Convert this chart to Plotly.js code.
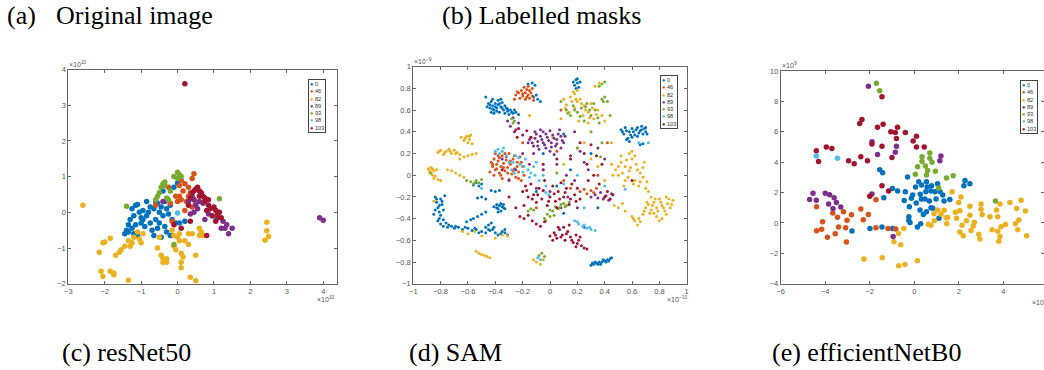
<!DOCTYPE html>
<html><head><meta charset="utf-8">
<script src="https://cdn.plot.ly/plotly-3.0.1.min.js"></script>
<style>html,body{margin:0;padding:0;background:#fff}#chart{width:1044px;height:370px}</style>
</head><body><div id="chart"></div>
<script>
// ---------- data ----------
const classLabels = ["0", "46", "82", "89", "93", "98", "103"];
const classColors = ["#0072BD", "#D95319", "#EDB120", "#7E2F8E", "#77AC30", "#4DBEEE", "#A2142F"];

// (c) resNet50 embedding (x1e10)
const res_0 = [[-1.45,-0.6],[-1.4,-0.5],[-1.35,-0.35],[-1.3,-0.2],[-1.35,-0.55],[-1.25,-0.45],[-1.2,-0.1],[-1.15,0.2],[-1.1,0.22],[-1.05,0.0],[-1.0,-0.15],[-1.0,-0.3],[-0.95,0.05],[-0.9,-0.4],[-0.85,0.3],[-0.85,-0.1],[-0.8,0.0],[-0.75,-0.3],[-0.7,-0.5],[-0.65,0.1],[-0.6,-0.2],[-0.55,0.25],[-0.55,-0.45],[-0.5,0.0],[-0.5,-0.3],[-0.45,0.15],[-0.4,-0.1],[-0.4,0.6],[-0.35,0.3],[-0.35,-0.4],[-0.3,0.1],[-0.3,-0.55],[-0.25,-0.05],[-0.2,-0.65],[-0.2,0.2],[-0.15,-0.2],[-0.1,0.7],[-0.05,-0.3],[0.0,0.82],[0.05,-0.3],[0.2,-0.25],[-1.1,-0.65],[-1.2,-0.6],[-0.65,-0.65],[-0.45,-0.7],[-0.6,0.3],[-0.75,0.15],[-0.95,-0.2],[-1.15,-0.35],[-1.25,0.1]];
const res_46 = [[0.45,1.08],[0.4,0.95],[0.1,0.9],[0.2,0.8],[0.05,0.75],[0.3,0.7],[0.15,0.6],[0.35,0.55],[0.05,0.45],[-0.05,0.45],[0.1,0.35],[0.0,0.3],[-0.2,0.25],[-0.25,0.7],[0.25,0.3],[0.3,0.45],[0.2,0.05],[-0.6,0.2],[-0.15,-0.25],[0.45,0.35],[0.4,0.15],[0.5,0.25]];
const res_82 = [[-2.6,0.2],[-2.15,-1.12],[-2.05,-0.85],[-2.0,-0.83],[-1.85,-0.73],[-2.1,-1.65],[-2.05,-1.8],[-1.85,-1.65],[-1.75,-1.7],[-1.75,-1.75],[-1.7,-1.2],[-1.6,-1.12],[-1.55,-1.05],[-1.45,-0.95],[-1.35,-0.8],[-1.3,-0.95],[-1.25,-0.85],[-1.2,-0.7],[-1.1,-0.55],[-1.05,-0.75],[-1.0,-0.85],[-0.95,-0.6],[-1.35,-1.9],[-0.55,-1.0],[-0.5,-0.7],[-0.45,-1.2],[-0.4,-1.3],[-0.4,-1.4],[-0.3,-1.3],[-0.3,-1.4],[-0.15,-0.5],[-0.1,-0.65],[-0.1,-0.95],[-0.05,-1.05],[0.0,-0.7],[0.05,-0.6],[0.05,-0.8],[0.1,-1.15],[0.1,-1.4],[0.1,-1.55],[0.15,-1.25],[0.2,-0.8],[0.3,-0.6],[0.3,-0.9],[0.4,-0.6],[0.35,-1.82],[0.5,-1.92],[0.5,-1.2],[0.6,-0.45],[0.6,-0.65],[0.65,-0.55],[0.7,-0.65],[2.45,-0.28],[2.45,-0.52],[2.5,-0.68],[2.4,-0.78]];
const res_89 = [[-0.4,0.3],[0.3,0.3],[0.4,0.45],[0.45,0.35],[0.5,0.2],[0.55,0.1],[0.6,0.3],[0.7,0.25],[0.45,0.0],[0.75,-0.2],[1.2,-0.45],[1.3,-0.45],[1.35,-0.35],[1.4,-0.6],[1.5,-0.45],[1.25,-0.25],[3.9,-0.15],[4.0,-0.22],[0.35,-0.05],[0.85,-0.05]];
const res_93 = [[-1.4,0.17],[-0.6,0.35],[-0.55,0.45],[-0.5,0.55],[-0.45,0.7],[-0.4,0.8],[-0.35,0.75],[-0.3,0.4],[-0.2,0.6],[-0.25,0.35],[-0.1,1.0],[0.0,1.12],[0.05,1.05],[0.0,0.95],[0.1,1.0],[-0.1,-0.9],[1.15,0.38],[-0.35,0.85]];
const res_98 = [[0.0,-0.02],[1.0,-0.13]];
const res_103 = [[0.2,3.6],[0.5,0.65],[0.55,0.7],[0.45,0.6],[0.6,0.6],[0.65,0.55],[0.7,0.45],[0.75,0.4],[0.85,0.35],[0.85,0.2],[0.9,0.1],[1.0,0.15],[1.05,0.05],[1.1,-0.05],[1.15,0.0],[1.2,-0.15],[0.95,-0.1],[0.8,0.05],[1.05,-0.25],[0.75,0.3],[0.35,0.4],[0.3,0.2],[0.35,-0.25],[0.1,-0.45],[0.8,-0.65],[-0.1,-0.35],[0.4,0.55],[0.6,0.45],[1.1,-0.15]];

// (d) SAM embedding
const sam_0 = [[-0.45,0.66],[-0.44,0.62],[-0.43,0.68],[-0.42,0.64],[-0.41,0.6],[-0.4,0.66],[-0.39,0.62],[-0.38,0.69],[-0.37,0.58],[-0.36,0.63],[-0.35,0.67],[-0.34,0.6],[-0.33,0.57],[-0.32,0.62],[-0.31,0.59],[-0.3,0.56],[-0.29,0.6],[-0.27,0.57],[-0.25,0.58],[-0.23,0.56],[-0.41,0.57],[-0.38,0.65],[-0.43,0.58],[-0.36,0.7],[-0.47,0.72],
[-0.44,0.65],[-0.42,0.61],[-0.4,0.63],[-0.39,0.59],[-0.37,0.66],[-0.35,0.62],[-0.33,0.64],[-0.31,0.61],[-0.28,0.58],[-0.26,0.6],[-0.46,0.63],[-0.42,0.7],
[0.17,0.86],[0.18,0.83],[0.19,0.88],[0.2,0.85],[0.21,0.81],[0.19,0.8],[0.22,0.86],[0.2,0.89],[-0.16,0.84],[-0.13,0.85],[-0.11,0.83],[-0.12,0.72],[-0.09,0.7],[-0.07,0.68],[-0.1,0.74],
[0.52,0.42],[0.54,0.38],[0.55,0.44],[0.57,0.34],[0.58,0.4],[0.6,0.43],[0.62,0.37],[0.63,0.42],[0.64,0.44],[0.65,0.39],[0.66,0.41],[0.67,0.45],[0.68,0.38],[0.69,0.43],[0.7,0.4],[0.66,0.28],[0.68,0.29],[0.58,0.31],[0.56,0.33],
[0.53,0.4],[0.56,0.41],[0.59,0.37],[0.61,0.4],[0.64,0.36],[0.67,0.42],[0.7,0.44],[0.71,0.38],[0.6,0.35],
[0.3,-0.83],[0.32,-0.82],[0.34,-0.81],[0.36,-0.8],[0.38,-0.8],[0.4,-0.79],[0.42,-0.78],[0.44,-0.77],[0.35,-0.82],[0.39,-0.78],[0.41,-0.8],[0.31,-0.81],[0.33,-0.8],[0.37,-0.82],[0.43,-0.79],[0.45,-0.76],
[-0.84,-0.2],[-0.83,-0.25],[-0.82,-0.3],[-0.8,-0.22],[-0.79,-0.27],[-0.81,-0.34],[-0.78,-0.32],[-0.77,-0.19],[-0.85,-0.36],[-0.8,-0.37],[-0.83,-0.22],[-0.81,-0.28],[-0.84,-0.32],[-0.79,-0.24],
[-0.82,-0.42],[-0.8,-0.45],[-0.78,-0.47],[-0.75,-0.48],[-0.72,-0.47],[-0.7,-0.49],[-0.67,-0.48],[-0.64,-0.5],[-0.6,-0.49],[-0.57,-0.51],[-0.54,-0.5],[-0.5,-0.52],[-0.47,-0.53],[-0.44,-0.51],[-0.42,-0.5],[-0.4,-0.53],[-0.38,-0.55],[-0.35,-0.52],[-0.33,-0.5],[-0.31,-0.55],[-0.45,-0.46],[-0.43,-0.44],[-0.47,-0.48],[-0.78,-0.41],[-0.76,-0.44],
[-0.81,-0.4],[-0.74,-0.46],[-0.69,-0.47],[-0.62,-0.48],[-0.55,-0.49],[-0.52,-0.53],[-0.45,-0.5],[-0.41,-0.48],[-0.36,-0.54],[-0.33,-0.53],
[-0.41,-0.29],[-0.39,-0.27],[-0.38,-0.31],[-0.37,-0.28],[-0.36,-0.33],[-0.35,-0.29],[-0.34,-0.27],[-0.33,-0.31],[-0.38,-0.34],[-0.39,-0.3],[-0.36,-0.26],[-0.34,-0.3],
[-0.61,-0.43],[-0.58,-0.41],[-0.56,-0.4],[-0.53,-0.38],[-0.5,-0.36],[-0.47,-0.34],[-0.56,-0.09],[-0.54,-0.07],[-0.52,-0.1],[-0.5,-0.08],[-0.53,-0.21],[-0.5,-0.2],[-0.47,-0.22],[-0.43,-0.14],[-0.4,-0.15],[-0.37,-0.14],
[0.05,-0.1],[0.15,0.05],[-0.05,0.2],[0.1,0.38],[0.3,0.2],[0.35,-0.3],[-0.1,-0.15],[0.1,-0.35],[0.25,-0.48]];
const sam_46 = [[-0.25,0.74],[-0.23,0.76],[-0.21,0.78],[-0.2,0.73],[-0.18,0.76],[-0.17,0.79],[-0.16,0.74],[-0.15,0.71],[-0.14,0.76],[-0.13,0.73],[-0.19,0.81],[-0.22,0.71],[-0.12,0.69],[-0.26,0.7],[-0.16,0.82],
[-0.24,0.77],[-0.2,0.75],[-0.17,0.72],[-0.15,0.78],[-0.18,0.7],[-0.13,0.8],
[-0.43,0.12],[-0.42,0.08],[-0.41,0.15],[-0.4,0.05],[-0.39,0.1],[-0.38,0.13],[-0.37,0.02],[-0.36,0.08],[-0.35,0.18],[-0.34,0.11],[-0.33,0.04],[-0.32,0.14],[-0.31,0.07],[-0.3,0.2],[-0.29,0.1],[-0.28,0.01],[-0.27,0.15],[-0.26,0.06],[-0.25,-0.02],[-0.24,0.12],[-0.23,0.03],[-0.22,0.17],[-0.21,-0.05],[-0.2,0.08],[-0.19,0.0],[-0.41,0.0],[-0.35,-0.03],[-0.3,-0.04],[-0.38,0.18],[-0.33,0.2],
[-0.42,0.1],[-0.39,0.06],[-0.37,0.16],[-0.36,0.0],[-0.34,0.07],[-0.32,0.17],[-0.31,0.02],[-0.29,0.13],[-0.27,0.04],[-0.26,0.18],[-0.24,0.08],[-0.23,-0.03],[-0.21,0.12],[-0.4,0.2],[-0.44,0.03],
[0.22,-0.15],[0.25,-0.13],[0.27,-0.17],[0.3,-0.14],[0.32,-0.16],[0.34,-0.12],
[0.05,0.22],[0.15,-0.12],[0.2,0.25],[-0.05,0.05],[0.35,0.0],[-0.1,-0.3],[0.1,-0.05],[0.42,0.3],[0.08,0.6],[-0.2,0.3]];
const sam_82 = [[-0.82,0.21],[-0.8,0.23],[-0.78,0.19],[-0.76,0.22],[-0.74,0.24],[-0.72,0.2],[-0.7,0.23],[-0.68,0.21],[-0.66,0.19],
[-0.81,0.22],[-0.77,0.21],[-0.73,0.22],[-0.69,0.2],[-0.62,0.34],[-0.59,0.36],
[-0.65,0.35],[-0.63,0.32],[-0.61,0.36],[-0.6,0.3],[-0.59,0.33],[-0.58,0.37],[-0.57,0.29],[-0.66,0.15],[-0.63,0.17],[-0.6,0.18],[-0.57,0.19],[-0.54,0.2],
[-0.89,0.06],[-0.88,0.02],[-0.87,0.07],[-0.85,0.04],[-0.84,-0.01],[-0.83,0.05],[-0.82,-0.04],[-0.8,-0.05],[-0.86,0.0],[-0.88,0.04],[-0.86,0.06],[-0.85,-0.03],[-0.75,0.05],[-0.72,0.04],[-0.69,0.02],[-0.66,0.0],[-0.63,-0.02],
[0.1,0.7],[0.12,0.65],[0.15,0.72],[0.18,0.62],[0.2,0.68],[0.22,0.7],[0.24,0.55],[0.25,0.64],[0.28,0.58],[0.3,0.66],[0.32,0.52],[0.35,0.6],[0.38,0.55],[0.4,0.5],[0.2,0.78],[0.18,0.75],[0.14,0.58],[0.08,0.52],[0.33,0.82],[0.36,0.85],[0.28,0.48],
[0.11,0.62],[0.16,0.68],[0.19,0.7],[0.23,0.66],[0.26,0.6],[0.29,0.53],[0.31,0.62],[0.34,0.56],[0.21,0.5],[0.17,0.77],
[0.45,0.1],[0.48,0.05],[0.5,0.0],[0.52,0.12],[0.55,0.08],[0.57,-0.02],[0.58,0.04],[0.6,0.15],[0.62,-0.05],[0.63,0.1],[0.65,-0.1],[0.66,0.02],[0.68,0.07],[0.7,-0.12],[0.72,-0.15],[0.58,0.2],[0.6,0.22],[0.62,0.18],[0.4,-0.05],[0.35,0.08],[0.3,0.15],[0.68,-0.02],[0.54,-0.1],
[0.46,0.0],[0.5,0.08],[0.53,0.02],[0.56,0.14],[0.59,0.07],[0.61,-0.08],[0.64,0.05],[0.66,-0.06],[0.69,0.12],[0.71,-0.06],[0.55,-0.05],[0.52,0.18],
[0.6,-0.38],[0.62,-0.42],[0.65,-0.4],[0.68,-0.36],[0.7,-0.3],[0.72,-0.27],[0.74,-0.32],[0.76,-0.25],[0.78,-0.3],[0.8,-0.22],[0.82,-0.28],[0.84,-0.33],[0.86,-0.26],[0.88,-0.3],[0.9,-0.23],[0.78,-0.38],[0.74,-0.2],[0.85,-0.2],[0.64,-0.46],[0.82,-0.4],[0.76,-0.35],
[0.61,-0.4],[0.66,-0.43],[0.69,-0.33],[0.71,-0.25],[0.73,-0.35],[0.75,-0.28],[0.77,-0.22],[0.79,-0.33],[0.81,-0.25],[0.83,-0.3],[0.85,-0.36],[0.87,-0.22],[0.89,-0.27],[0.8,-0.42],
[0.47,-0.28],[0.5,-0.3],[0.53,-0.26],[0.55,-0.33],
[-0.54,-0.7],[-0.52,-0.72],[-0.5,-0.73],[-0.48,-0.74],[-0.46,-0.75],[-0.44,-0.76],[-0.64,-0.52],[-0.6,-0.54],[-0.55,-0.52],[-0.5,-0.56],[-0.4,-0.58],[-0.35,-0.55],[-0.31,-0.56],
[-0.12,-0.78],[-0.1,-0.8],[-0.07,-0.82],[-0.05,-0.78],[0.02,0.35],[0.25,0.3],[0.1,0.1],[-0.15,0.55],[0.45,0.3],[-0.85,-0.24]];
const sam_89 = [[-0.16,0.3],[-0.14,0.35],[-0.12,0.27],[-0.1,0.38],[-0.09,0.31],[-0.08,0.24],[-0.06,0.33],[-0.05,0.4],[-0.04,0.28],[-0.02,0.35],[0.0,0.22],[0.01,0.3],[0.02,0.37],[0.04,0.27],[0.05,0.33],[0.07,0.42],[0.08,0.25],[0.1,0.3],[0.11,0.36],[-0.12,0.2],[-0.07,0.42],[0.03,0.19],[-0.03,0.25],[0.06,0.38],
[-0.15,0.33],[-0.13,0.3],[-0.11,0.34],[-0.09,0.27],[-0.07,0.36],[-0.05,0.3],[-0.03,0.38],[-0.01,0.32],[0.01,0.26],[0.03,0.34],[0.05,0.29],[0.08,0.36],[0.09,0.32],[-0.11,0.4],[0.0,0.41],
[0.33,-0.18],[0.35,-0.21],[0.37,-0.16],[0.39,-0.22],[0.41,-0.19],[0.43,-0.23],[0.45,-0.17],
[-0.31,0.5],[-0.29,0.45],[-0.27,0.53],[-0.25,0.42],[-0.23,0.48],
[-0.25,0.05],[-0.15,0.1],[-0.05,0.05],[0.05,0.1],[0.15,0.18],[0.18,-0.05],[0.25,0.12],[0.3,-0.2],[0.2,-0.3],[0.0,-0.15],[-0.1,-0.12],[0.12,0.0],[-0.2,0.2],[0.22,0.22],[0.28,0.05],[-0.3,-0.05],[0.13,-0.2],[0.08,-0.3],[0.4,0.15],[0.35,0.25],[0.18,0.4],[-0.35,0.15]];
const sam_93 = [[0.12,0.6],[0.15,0.55],[0.17,0.64],[0.2,0.58],[0.23,0.62],[0.25,0.5],[0.27,0.66],[0.3,0.55],[0.33,0.6],[0.36,0.48],[0.38,0.7],[0.4,0.72],[0.42,0.68],[0.38,0.84],[0.4,0.86],[0.36,0.82],[0.08,0.68],[0.44,0.55],
[0.13,0.57],[0.18,0.6],[0.22,0.54],[0.26,0.63],[0.29,0.6],[0.32,0.66],[0.35,0.53],[0.39,0.68],
[-0.58,-0.06],[-0.56,-0.08],[-0.54,-0.05],[-0.52,-0.07],[-0.5,-0.04],[-0.61,-0.05],[-0.55,-0.07],
[-0.04,-0.4],[-0.02,-0.36],[0.0,-0.38],[0.02,-0.33],[0.04,-0.29],[0.06,-0.31],[0.08,-0.27],[0.1,-0.26],[0.12,-0.28],[0.14,-0.25],[-0.03,-0.42],[0.0,-0.32],[0.03,-0.37],[0.07,-0.3],[0.11,-0.29],
[-0.16,-0.33],[-0.14,-0.31],[-0.12,-0.32],[-0.08,-0.74],[-0.06,-0.72],[-0.04,-0.75],[-0.28,0.52],[-0.26,0.5],[-0.27,0.48],
[0.2,0.25],[0.38,0.3],[0.37,0.17],[-0.87,0.02],[0.05,0.02],[0.3,0.4]];
const sam_98 = [[-0.4,0.22],[-0.37,0.2],[-0.34,0.25],[-0.3,0.12],[-0.28,0.05],[-0.25,0.18],[-0.22,0.1],[-0.2,0.03],[-0.18,0.15],[-0.15,-0.02],[-0.12,0.08],[-0.1,0.12],[-0.08,-0.05],[-0.05,0.0],[-0.03,-0.1],[-0.35,0.22],[-0.16,0.05],[-0.26,0.02],
[-0.38,0.24],[-0.32,0.18],[-0.27,0.12],[-0.23,0.16],[-0.19,0.08],[-0.14,0.02],[-0.11,0.0],
[0.18,-0.42],[0.21,-0.45],[0.24,-0.47],[0.27,-0.49],[0.3,-0.5],[0.33,-0.51],[0.2,-0.43],[0.25,-0.46],[0.29,-0.48],[-0.09,-0.76],[-0.07,-0.78],[-0.05,-0.14],[-0.03,-0.16],[-0.01,-0.18],
[0.1,-0.08],[0.2,0.0],[0.25,-0.3],[0.4,-0.1],[-0.5,-0.12],[0.55,-0.13],[0.65,0.3],[0.72,0.3]];
const sam_103 = [[-0.2,-0.15],[-0.18,-0.1],[-0.16,-0.2],[-0.14,-0.08],[-0.12,-0.18],[-0.1,-0.25],[-0.08,-0.12],[-0.06,-0.22],[-0.04,-0.05],[-0.02,-0.28],[0.0,-0.2],[0.02,-0.1],[0.04,-0.24],[0.06,-0.15],[0.08,-0.07],[0.1,-0.2],[0.12,-0.12],[0.14,-0.27],[0.16,-0.08],[0.18,-0.18],[0.2,-0.12],[0.22,-0.22],[-0.19,-0.28],[0.05,-0.3],
[-0.17,-0.14],[-0.13,-0.22],[-0.09,-0.18],[-0.05,-0.14],[-0.01,-0.24],[0.03,-0.17],[0.07,-0.22],[0.11,-0.16],[0.15,-0.22],[0.19,-0.24],
[0.0,-0.56],[0.03,-0.53],[0.05,-0.58],[0.07,-0.5],[0.09,-0.55],[0.11,-0.6],[0.13,-0.52],[0.15,-0.57],[0.17,-0.62],[0.19,-0.55],[0.21,-0.6],[0.23,-0.65],[0.25,-0.67],[0.27,-0.68],[0.1,-0.48],[0.14,-0.46],[0.02,-0.6],[0.19,-0.66],
[0.04,-0.55],[0.08,-0.57],[0.12,-0.54],[0.16,-0.6],[0.2,-0.63],[0.22,-0.57],[0.06,-0.48],
[-0.22,-0.38],[-0.19,-0.4],[-0.16,-0.37],[-0.13,-0.42],[-0.1,-0.45],[-0.07,-0.47],[-0.04,-0.43],
[-0.26,0.4],[-0.23,0.43],[-0.2,0.37],[-0.17,0.41],[-0.14,0.35],[-0.24,0.35],
[0.22,0.3],[0.25,0.2],[0.27,0.1],[0.3,0.28],[0.32,0.0],[0.34,0.18],[0.36,-0.08],[0.38,0.1],[0.4,-0.2],[0.42,-0.15],[0.44,-0.22],[0.46,-0.18],[0.28,-0.05],
[-0.3,-0.2],[-0.25,-0.3],[-0.05,0.1],[0.05,0.15],[0.15,0.15],[-0.35,0.05],[0.6,-0.05]];

// (e) efficientNetB0 embedding
const eff_0 = [[-0.3,3.02],[-1.55,3.5],[-1.42,3.3],[-1.37,1.65],[-0.98,2.27],[-0.75,2.1],[-0.4,2.05],[-0.45,1.48],[-0.22,1.07],[-0.13,1.62],[-0.07,1.84],[0.06,2.36],[0.2,2.71],[0.33,2.49],[0.55,2.71],[0.58,2.36],[0.78,2.45],[0.75,2.1],[0.52,2.05],[0.27,1.88],[0.09,1.31],[0.32,1.57],[0.48,1.57],[0.68,1.44],[0.98,1.57],[0.93,2.05],[1.05,2.58],[1.16,2.05],[1.28,1.84],[1.34,1.44],[1.6,1.55],[2.28,2.8],[2.23,2.45],[2.5,2.58],[0.26,0.85],[0.41,0.56],[0.55,0.74],[0.75,1.0],[0.83,0.96],[1.11,0.3],[-0.24,0.41],[-0.25,0.17],[-0.19,0.02],[0.14,-0.27],[0.29,-0.05],[-1.99,-0.36],[-1.45,-0.27],[-0.97,-0.36],[-2.8,-0.53]];
const eff_46 = [[-4.39,1.07],[-4.12,0.08],[-4.39,-0.51],[-4.16,-0.42],[-3.9,-0.95],[-3.66,0.65],[-3.45,0.37],[-3.55,-0.71],[-3.4,-0.27],[-3.18,0.73],[-3.02,0.17],[-3.08,-0.31],[-3.05,-1.25],[-2.82,0.54],[-2.4,0.92],[-2.29,0.21],[-2.06,0.56],[-1.72,1.53],[-1.72,-0.31],[-1.18,-0.36],[-0.83,-0.4]];
const eff_82 = [[-2.26,-2.37],[-1.44,-2.29],[-0.7,-2.82],[-0.42,-2.73],[0.14,-2.49],[-0.91,-1.24],[-0.61,-1.43],[-0.71,-0.69],[-0.47,-0.36],[0.63,-0.09],[0.89,0.61],[0.9,0.15],[1.2,0.57],[1.34,0.83],[1.43,0.34],[1.46,-0.03],[1.7,2.05],[1.85,0.7],[1.9,0.3],[2.0,1.35],[2.05,0.8],[2.05,-0.6],[2.1,1.7],[2.15,-0.15],[2.2,-0.85],[2.35,0.15],[2.5,1.1],[2.5,0.5],[2.55,-0.5],[2.65,-0.2],[2.7,0.05],[2.9,-0.75],[2.95,-1.05],[3.0,1.25],[3.0,0.9],[3.05,0.55],[3.4,0.4],[3.5,-0.45],[3.7,0.85],[3.75,0.4],[3.75,-0.55],[3.8,-1.2],[3.85,1.25],[3.85,-0.9],[3.9,-0.25],[4.1,-0.1],[4.3,1.35],[4.55,-0.05],[4.6,0.95],[4.65,-0.45],[4.7,0.2],[4.8,1.5],[5.0,0.78],[5.05,-0.85],[0.75,-0.15],[1.5,0.35],[1.05,0.85]];
const eff_89 = [[-2.06,9.0],[-1.9,5.35],[-1.65,4.5],[-0.8,5.05],[-0.85,4.65],[1.2,4.4],[1.15,4.1],[-4.55,1.95],[-4.7,1.55],[-4.4,1.5],[-4.0,1.95],[-3.85,1.25],[-3.8,1.85],[-3.6,1.65],[-3.65,0.95],[-3.5,1.35],[-3.3,1.05],[-1.9,1.9],[-0.95,-0.9]];
const eff_93 = [[-1.7,9.2],[-1.55,8.7],[0.05,3.2],[0.15,3.7],[0.35,4.35],[0.35,4.05],[0.5,3.75],[0.6,3.45],[0.7,4.6],[0.7,4.25],[0.8,4.0],[0.95,3.4],[0.55,3.15],[1.1,2.3],[1.45,2.95],[1.75,3.1],[3.65,1.45]];
const eff_98 = [[-4.4,4.4],[-3.45,4.25]];
const eff_103 = [[-1.45,8.3],[-2.35,6.8],[-2.45,6.55],[-1.65,6.3],[-1.4,6.5],[-1.05,6.0],[-0.75,6.3],[-0.85,5.95],[-0.8,5.55],[-0.4,5.95],[-0.05,5.4],[0.1,5.7],[0.1,5.0],[0.45,5.0],[-1.9,5.2],[-1.45,5.05],[-4.4,4.75],[-4.3,4.05],[-3.95,5.0],[-3.7,4.9],[-2.95,4.1],[-2.7,3.9],[-2.4,4.35],[-2.1,4.1],[-1.45,2.45],[-1.15,2.1],[-2.0,1.75],[-1.0,4.3]];

const resData = [res_0, res_46, res_82, res_89, res_93, res_98, res_103];
const samData = [sam_0, sam_46, sam_82, sam_89, sam_93, sam_98, sam_103];
const effData = [eff_0, eff_46, eff_82, eff_89, eff_93, eff_98, eff_103];

const captions = ["(a)", "Original image", "(b) Labelled masks", "(c) resNet50", "(d) SAM", "(e) efficientNetB0"];

// ---------- build ----------
const W = 1044, H = 370;
const px = v => v / W, py = v => 1 - v / H;
const traces = [];
function addSet(sets, xa, ya, size) {
  sets.forEach((pts, i) => {
    traces.push({
      type: 'scatter', mode: 'markers', xaxis: xa, yaxis: ya, showlegend: false,
      name: classLabels[i], x: pts.map(p => p[0]), y: pts.map(p => p[1]),
      marker: {color: classColors[i], size: size, line: {width: 0}}, hoverinfo: 'skip'
    });
  });
}
addSet(resData, 'x', 'y', 5.5);
addSet(samData, 'x2', 'y2', 3);
addSet(effData, 'x3', 'y3', 5.5);

const tickFont = {family: 'Liberation Sans, Arial, sans-serif', size: 7.5, color: '#555'};
function ax(domain, range, dtick, anchor) {
  return {domain: domain, range: range, dtick: dtick, tick0: 0, anchor: anchor,
    showline: true, mirror: 'ticks', linecolor: '#666', linewidth: 1,
    ticks: 'inside', ticklen: 3, tickcolor: '#666', tickwidth: 1,
    showgrid: false, zeroline: false, tickfont: tickFont, fixedrange: true};
}
const layout = {
  width: W, height: H, margin: {l: 0, r: 0, t: 0, b: 0}, autosize: false,
  paper_bgcolor: '#fff', plot_bgcolor: '#fff', showlegend: false,
  xaxis: ax([px(68.3), px(336.7)], [-3, 4.37], 1, 'y'),
  yaxis: ax([py(283.7), py(69.5)], [-2, 4], 1, 'x'),
  xaxis2: ax([px(413.3), px(686.7)], [-1, 1], 0.2, 'y2'),
  yaxis2: ax([py(283.7), py(66.7)], [-1, 1], 0.2, 'x2'),
  xaxis3: ax([px(780.7), 1], [-6, 5.83], 2, 'y3'),
  yaxis3: ax([py(283.7), py(71)], [-4, 10], 2, 'x3'),
  annotations: []
};
layout.xaxis2.tickvals = [-1,-0.8,-0.6,-0.4,-0.2,0,0.2,0.4,0.6,0.8,1];
layout.xaxis2.ticktext = ['\u22121','\u22120.8','\u22120.6','\u22120.4','\u22120.2','0','0.2','0.4','0.6','0.8','1'];
layout.yaxis2.tickvals = layout.xaxis2.tickvals; layout.yaxis2.ticktext = layout.xaxis2.ticktext;

const capFont = {family: 'Liberation Serif, Times New Roman, serif', size: 26, color: '#000'};
function cap(text, x, y) {
  layout.annotations.push({text: text, xref: 'paper', yref: 'paper', x: px(x), y: py(y),
    xanchor: 'left', yanchor: 'middle', showarrow: false, font: capFont});
}
cap(captions[0], 5, 15); cap(captions[1], 54, 15); cap(captions[2], 440, 15);
cap(captions[3], 60, 352); cap(captions[4], 407, 352); cap(captions[5], 770, 352);

const expFont = {family: 'Liberation Sans, Arial, sans-serif', size: 7, color: '#555'};
function expo(text, x, y, anchor) {
  layout.annotations.push({text: text, xref: 'paper', yref: 'paper', x: px(x), y: py(y),
    xanchor: anchor, yanchor: 'middle', showarrow: false, font: expFont});
}
expo('\u00d710<sup>10</sup>', 67, 64, 'left'); expo('\u00d710<sup>10</sup>', 337, 299, 'right');
expo('\u00d710<sup>\u22129</sup>', 412, 61, 'left'); expo('\u00d710<sup>\u221210</sup>', 689, 299, 'right');
expo('\u00d710<sup>9</sup>', 780, 65, 'left'); expo('\u00d710<sup>10</sup>', 1030, 302, 'left');

function legendBox(x, y) {
  const text = classLabels.map((l, i) => "<span style='color:" + classColors[i] + "'>\u25CF</span> " + l).join('<br>');
  layout.annotations.push({text: text, xref: 'paper', yref: 'paper', x: px(x), y: py(y),
    xanchor: 'left', yanchor: 'top', align: 'left', showarrow: false,
    font: {family: 'Liberation Sans, Arial, sans-serif', size: 5.6, color: '#333'},
    bgcolor: '#fff', bordercolor: '#444', borderwidth: 1, borderpad: 1});
}
legendBox(308, 79); legendBox(660, 75); legendBox(1020, 80);

Plotly.newPlot('chart', traces, layout, {staticPlot: true, displayModeBar: false});
</script></body></html>
